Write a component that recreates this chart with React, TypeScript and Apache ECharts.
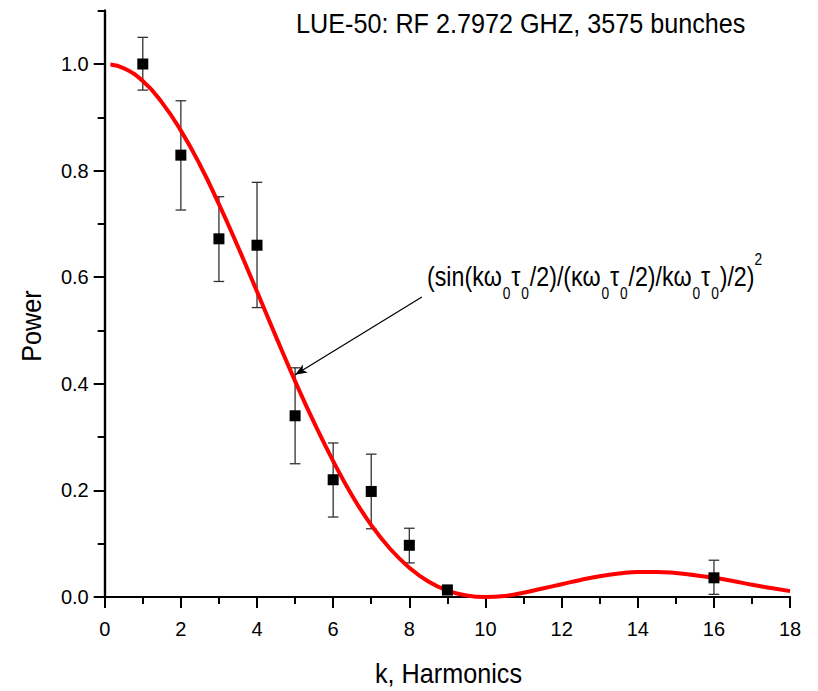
import React, { useEffect, useRef } from "react";
import * as echarts from "echarts";

// Measured harmonics (k) with power and error bar bounds
const harmonics = [1, 2, 3, 4, 5, 6, 7, 8, 9, 16];
const measuredPower = [1.0, 0.829, 0.672, 0.66, 0.34, 0.22, 0.198, 0.097, 0.013, 0.036];
const errLow = [0.951, 0.726, 0.592, 0.543, 0.25, 0.15, 0.128, 0.064, 0.005, 0.005];
const errHigh = [1.05, 0.931, 0.751, 0.778, 0.43, 0.289, 0.268, 0.129, 0.022, 0.069];

// Fitted curve
const curveK = [
  0.15, 0.5, 1, 1.5, 2, 2.5, 3, 3.5, 4, 4.5, 5, 5.5, 6, 6.5, 7, 7.5, 8, 8.5, 9, 9.5,
  10, 10.5, 11, 11.5, 12, 12.5, 13, 13.5, 14, 14.5, 15, 15.5, 16, 16.5, 17, 17.5, 18,
];
const curvePower = [
  0.999, 0.992, 0.968, 0.928, 0.875, 0.811, 0.737, 0.657, 0.573, 0.488, 0.405, 0.327,
  0.255, 0.19, 0.135, 0.09, 0.055, 0.029, 0.012, 0.003, 0.0, 0.002, 0.008, 0.016,
  0.024, 0.032, 0.039, 0.044, 0.047, 0.047, 0.045, 0.041, 0.036, 0.03, 0.023, 0.017,
  0.011,
];

// Axes
const xRange = [0, 18];
const xStep = 2;
const yRange = [0, 1.1];
const yStep = 0.2;
const yMinorStep = 0.1;

// Annotation arrow (data coords): from -> to
const arrowFrom = [8.33, 0.563];
const arrowTo = [5.0, 0.417];

const titleText = "LUE-50: RF 2.7972 GHZ, 3575 bunches";
const xName = "k, Harmonics";
const yName = "Power";
const formulaRich =
  "{m|(sin(kω}{s|0}{m|τ}{s|0}{m|/2)/(κω}{s|0}{m|τ}{s|0}{m|/2)/kω}{s|0}{m|τ}{s|0}{m|)/2)}{p|2}";

const FONT = '"Liberation Sans", Arial, sans-serif';

export default function App() {
  const ref = useRef<HTMLDivElement>(null);

  useEffect(() => {
    const chart = echarts.init(ref.current!, null, { renderer: "svg" });
    const black = "#000";
    const option: any = {
      animation: false,
      backgroundColor: "#fff",
      grid: { left: 104.7, right: 27.9, top: 10.7, bottom: 94, containLabel: false },
      xAxis: {
        type: "value",
        min: xRange[0],
        max: xRange[1],
        interval: xStep,
        axisLine: { show: true, onZero: false, lineStyle: { color: black, width: 2.2 } },
        axisTick: { show: true, inside: false, length: 11, lineStyle: { color: black, width: 2 } },
        minorTick: { show: true, splitNumber: 2, length: 7, lineStyle: { color: black, width: 2 } },
        axisLabel: { fontSize: 20, color: black, margin: 22, fontFamily: FONT },
        splitLine: { show: false },
      },
      yAxis: [
        {
          type: "value",
          position: "left",
          min: yRange[0],
          max: yRange[1],
          interval: yMinorStep,
          axisLine: { show: true, onZero: false, lineStyle: { color: black, width: 2.2 } },
          axisTick: { show: true, inside: false, length: 7, lineStyle: { color: black, width: 2 } },
          axisLabel: { show: false },
          splitLine: { show: false },
        },
        {
          type: "value",
          position: "left",
          min: yRange[0],
          max: yRange[1],
          interval: yStep,
          axisLine: { show: true, onZero: false, lineStyle: { color: black, width: 2.2 } },
          axisTick: { show: true, inside: false, length: 11, lineStyle: { color: black, width: 2 } },
          axisLabel: {
            fontSize: 20,
            color: black,
            margin: 16,
            fontFamily: FONT,
            showMaxLabel: false,
            formatter: (v: number) => v.toFixed(1),
          },
          splitLine: { show: false },
        },
      ],
      series: [
        {
          type: "custom",
          name: "errors",
          yAxisIndex: 0,
          z: 2,
          data: harmonics.map((k, i) => [k, errLow[i], errHigh[i]]),
          encode: { x: 0, y: [1, 2] },
          renderItem: (params: any, api: any) => {
            const k = api.value(0);
            const lo = api.coord([k, api.value(1)]);
            const hi = api.coord([k, api.value(2)]);
            const half = 5.3;
            const style = { stroke: "#333", lineWidth: 1.3 };
            return {
              type: "group",
              children: [
                { type: "line", shape: { x1: lo[0], y1: lo[1], x2: hi[0], y2: hi[1] }, style },
                { type: "line", shape: { x1: hi[0] - half, y1: hi[1], x2: hi[0] + half, y2: hi[1] }, style },
                { type: "line", shape: { x1: lo[0] - half, y1: lo[1], x2: lo[0] + half, y2: lo[1] }, style },
              ],
            };
          },
        },
        {
          type: "line",
          name: "fit",
          yAxisIndex: 0,
          z: 3,
          data: curveK.map((k, i) => [k, curvePower[i]]),
          showSymbol: false,
          smooth: true,
          lineStyle: { color: "#ff0000", width: 4 },
          markLine: {
            silent: true,
            symbol: ["none", "arrow"],
            symbolSize: [7, 12],
            label: { show: false },
            lineStyle: { color: black, width: 1.2, type: "solid" },
            emphasis: { disabled: true },
            data: [[{ coord: arrowFrom }, { coord: arrowTo }]],
          },
        },
        {
          type: "scatter",
          name: "measured",
          yAxisIndex: 0,
          z: 4,
          symbol: "rect",
          symbolSize: 11,
          itemStyle: { color: black, opacity: 1 },
          data: harmonics.map((k, i) => [k, measuredPower[i]]),
        },
      ],
      graphic: [
        {
          type: "text",
          x: 296,
          y: 24,
          scaleX: 0.9,
          style: { text: titleText, font: `28px ${FONT}`, fill: black, align: "left", verticalAlign: "middle" },
        },
        {
          type: "text",
          x: 448.5,
          y: 674,
          scaleX: 0.9,
          style: { text: xName, font: `28px ${FONT}`, fill: black, align: "center", verticalAlign: "middle" },
        },
        {
          type: "text",
          x: 32,
          y: 326,
          rotation: Math.PI / 2,
          scaleX: 0.9,
          style: { text: yName, font: `28px ${FONT}`, fill: black, align: "center", verticalAlign: "middle" },
        },
        {
          type: "text",
          x: 427,
          y: 276,
          scaleX: 0.86,
          style: {
            text: formulaRich,
            fill: black,
            align: "left",
            verticalAlign: "middle",
            fontFamily: FONT,
            fontSize: 27,
            rich: {
              m: { fontSize: 27, lineHeight: 50, fontFamily: FONT, fill: black },
              s: { fontSize: 16, lineHeight: 16, verticalAlign: "bottom", fontFamily: FONT, fill: black, padding: [0, 1, 0, 1] },
              p: { fontSize: 16, lineHeight: 22, verticalAlign: "top", fontFamily: FONT, fill: black },
            },
          },
        },
      ],
    };
    chart.setOption(option);
    return () => chart.dispose();
  }, []);

  return (
    <div
      ref={ref}
      style={{ position: "fixed", left: 0, top: 0, width: 818, height: 691, background: "#fff" }}
    />
  );
}
